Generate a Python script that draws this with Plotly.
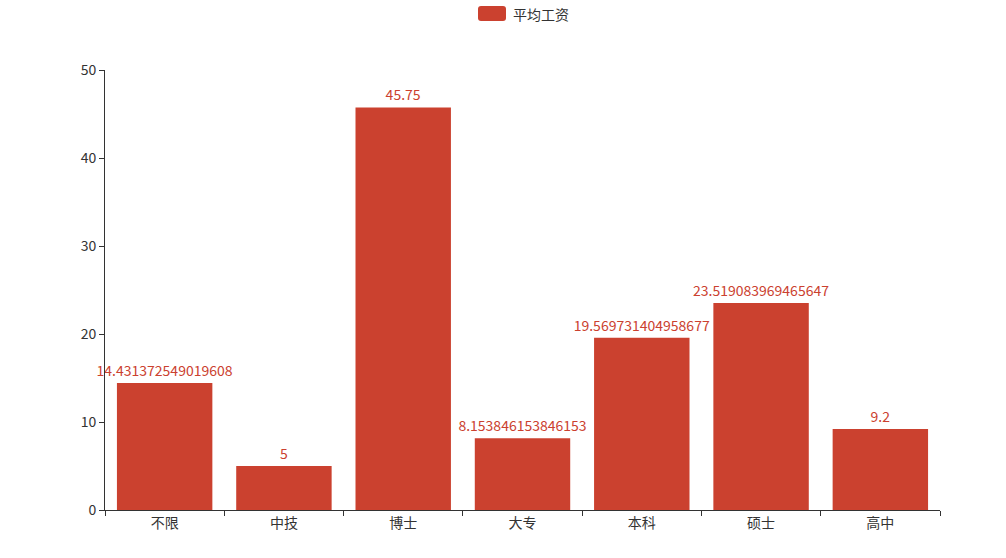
import plotly.graph_objects as go

categories = ["不限", "中技", "博士", "大专", "本科", "硕士", "高中"]
values = [14.431372549019608, 5, 45.75, 8.153846153846153, 19.569731404958677, 23.519083969465647, 9.2]
series_name = "平均工资"
y_ticks = [0, 10, 20, 30, 40, 50]

bar_color = "#cb412f"
font_family = "Noto Sans CJK SC, Microsoft YaHei, sans-serif"

labels = [repr(v) for v in values]

W, H = 1006, 558
ml, mr, mt, mb = 105, 66, 70, 48
pw, ph = W - ml - mr, H - mt - mb


def sx(px):
    return (px - ml) / pw


def sy(py):
    return (H - mb - py) / ph


fig = go.Figure()
fig.add_trace(go.Bar(
    x=categories,
    y=values,
    name=series_name,
    marker=dict(color=bar_color, line=dict(width=0)),
    text=labels,
    textposition="outside",
    textfont=dict(color=bar_color, size=14, family=font_family),
    constraintext="none",
    cliponaxis=False,
    showlegend=False,
))

# legend: rounded swatch plus text
lx0, lx1, ly0, ly1, rad = 478, 506, 6, 21, 3
rx, ry = rad / pw, rad / ph
X0, X1, Ytop, Ybot = sx(lx0), sx(lx1), sy(ly0), sy(ly1)
path = (
    f"M {X0 + rx},{Ytop} L {X1 - rx},{Ytop} Q {X1},{Ytop} {X1},{Ytop - ry} "
    f"L {X1},{Ybot + ry} Q {X1},{Ybot} {X1 - rx},{Ybot} "
    f"L {X0 + rx},{Ybot} Q {X0},{Ybot} {X0},{Ybot + ry} "
    f"L {X0},{Ytop - ry} Q {X0},{Ytop} {X0 + rx},{Ytop} Z"
)
fig.add_shape(
    type="path", xref="paper", yref="paper", path=path,
    fillcolor=bar_color, line=dict(width=0),
)
fig.add_annotation(
    xref="paper", yref="paper",
    x=sx(511), y=sy(14),
    text=series_name, showarrow=False,
    xanchor="left", yanchor="middle",
    font=dict(size=14, color="#333", family=font_family),
)

fig.update_layout(
    width=W, height=H,
    margin=dict(l=ml, r=mr, t=mt, b=mb),
    paper_bgcolor="white",
    plot_bgcolor="white",
    bargap=0.2,
    font=dict(family=font_family, size=14, color="#333"),
    xaxis=dict(
        type="category",
        range=[-0.5, len(categories) - 0.5],
        showline=True, linecolor="#333", linewidth=1,
        ticks="outside", ticklen=5, tickcolor="#333",
        tickson="boundaries",
        showgrid=False, zeroline=False,
        tickfont=dict(size=14, color="#333"),
        fixedrange=True,
    ),
    yaxis=dict(
        range=[0, 50],
        tickvals=y_ticks,
        showline=True, linecolor="#333", linewidth=1,
        ticks="outside", ticklen=5, tickcolor="#333",
        showgrid=False, zeroline=False,
        tickfont=dict(size=14, color="#333"),
        fixedrange=True,
    ),
)

fig.write_html(
    "out.html",
    config={"displayModeBar": False},
    post_script="document.body.style.margin='0';",
)
